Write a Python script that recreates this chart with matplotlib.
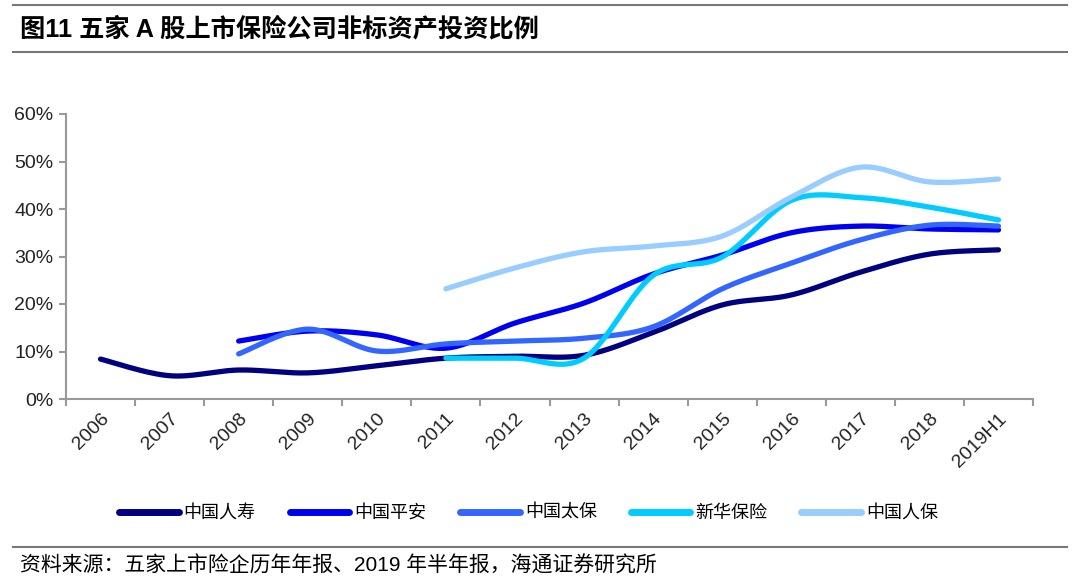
import numpy as np
import matplotlib
matplotlib.use('Agg')
import matplotlib.pyplot as plt
from matplotlib.lines import Line2D

plt.rcParams['font.family'] = ['Liberation Sans', 'Noto Sans CJK SC', 'DejaVu Sans']

# 数据（%）
years = ['2006', '2007', '2008', '2009', '2010', '2011', '2012', '2013',
         '2014', '2015', '2016', '2017', '2018', '2019H1']
nan = np.nan
renshou = [8.4, 4.9, 6.1, 5.5, 7.0, 8.6, 9.0, 9.2, 14.0, 19.8, 21.9, 26.7, 30.5, 31.4]
pingan = [nan, nan, 12.2, 14.3, 13.5, 10.7, 16.0, 20.2, 26.3, 30.3, 35.0, 36.4, 35.8, 35.6]
taibao = [nan, nan, 9.5, 14.7, 10.1, 11.6, 12.2, 12.8, 15.2, 23.2, 28.6, 33.5, 36.6, 36.4]
xinhua = [nan, nan, nan, nan, nan, 8.6, 8.6, 8.6, 26.0, 29.9, 41.8, 42.4, 40.4, 37.7]
renbao = [nan, nan, nan, nan, nan, 23.2, 27.6, 31.0, 32.2, 34.3, 42.5, 48.8, 45.7, 46.3]

names = ['中国人寿', '中国平安', '中国太保', '新华保险', '中国人保']
colors = ['#000080', '#0000F0', '#3366FF', '#00CCFF', '#99CCFF']
series = [renshou, pingan, taibao, xinhua, renbao]


# 平滑曲线（类似Excel的平滑线）
def smooth(xs, ys, n=30):
    px, py = [], []
    m = len(xs)
    for i in range(m - 1):
        p0 = np.array([xs[max(i - 1, 0)], ys[max(i - 1, 0)]])
        p1 = np.array([xs[i], ys[i]])
        p2 = np.array([xs[i + 1], ys[i + 1]])
        p3 = np.array([xs[min(i + 2, m - 1)], ys[min(i + 2, m - 1)]])
        c1 = p1 + (p2 - p0) / 6
        c2 = p2 - (p3 - p1) / 6
        t = np.linspace(0, 1, n)[:, None]
        b = (1 - t) ** 3 * p1 + 3 * (1 - t) ** 2 * t * c1 + 3 * (1 - t) * t ** 2 * c2 + t ** 3 * p2
        px.extend(b[:, 0])
        py.extend(b[:, 1])
    return px, py


fig = plt.figure(figsize=(10.8, 5.84), dpi=100)
ax = fig.add_axes([66 / 1080, 1 - 399 / 584, (1033 - 66) / 1080, (399 - 114) / 584])

for vals, c in zip(series, colors):
    v = np.array(vals, dtype=float)
    idx = np.where(~np.isnan(v))[0]
    sx, sy = smooth(list(idx), list(v[idx]))
    ax.plot(sx, sy, color=c, lw=3.8, solid_capstyle='round')

ax.set_xlim(-0.5, len(years) - 0.5)
ax.set_ylim(0, 60)
ax.set_yticks(range(0, 61, 10))
ax.set_yticklabels([f'{v}%' for v in range(0, 61, 10)], fontsize=14, color='#222222')
# 类别标签（主刻度，不画刻度线）+ 类别分隔刻度（次刻度）
ax.set_xticks(np.arange(len(years)))
ax.set_xticklabels(years, rotation=45, ha='right', rotation_mode='anchor',
                   fontsize=14, color='#222222')
ax.set_xticks(np.arange(len(years) + 1) - 0.5, minor=True)
ax.tick_params(axis='x', which='major', length=0, pad=8)
ax.tick_params(axis='x', which='minor', length=5, color='#999999', width=1.5)
ax.tick_params(axis='y', length=5, color='#999999', width=1.5, pad=4)
for s in ['top', 'right']:
    ax.spines[s].set_visible(False)
for s in ['left', 'bottom']:
    ax.spines[s].set_color('#999999')
    ax.spines[s].set_linewidth(1.5)

# 图例
handles = [Line2D([0], [0], color=c, lw=5, solid_capstyle='round') for c in colors]
fig.legend(handles, names, loc='center', bbox_to_anchor=(528.5 / 1080, 1 - 513 / 584), ncol=5,
           frameon=False, handlelength=3.3, handletextpad=0.28,
           columnspacing=1.88, prop={'family': ['Noto Sans CJK SC'], 'size': 13})

# 标题与来源
fig.add_artist(Line2D([0.012, 0.988], [1 - 5 / 584, 1 - 5 / 584], color='#777777', lw=1.5))
fig.add_artist(Line2D([0.012, 0.988], [1 - 52 / 584, 1 - 52 / 584], color='#777777', lw=1.5))
fig.text(20 / 1080, 1 - 29 / 584, '图11 五家 A 股上市保险公司非标资产投资比例',
         fontsize=18.2, fontweight='bold', va='center', ha='left')
fig.add_artist(Line2D([0.012, 0.988], [1 - 547 / 584, 1 - 547 / 584], color='#777777', lw=1.5))
fig.text(20 / 1080, 1 - 566 / 584, '资料来源：五家上市险企历年年报、2019 年半年报，海通证券研究所',
         fontsize=15, va='center', ha='left')

fig.savefig('out.png', dpi=100)
